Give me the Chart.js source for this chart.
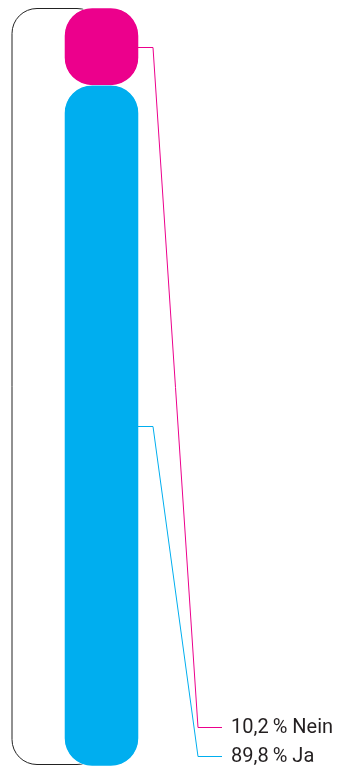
<!DOCTYPE html>
<html>
<head>
<meta charset="utf-8">
<script src="https://cdn.jsdelivr.net/npm/chart.js@4"></script>
<style>
  html, body { margin: 0; padding: 0; background: #fff; }
  #wrap { position: relative; width: 342px; height: 773px; }
</style>
</head>
<body>
<div id="wrap"><canvas id="myChart"></canvas></div>
<script>
const categories = ['Antwort'];
const answers = ['Ja', 'Nein'];
const shares = [89.8, 10.2];
const colors = ['#00AEEF', '#EC008C'];
const labelY = [756, 727]; // label rows, bottom to top

// floating segments built from the shares, bottom to top
let acc = 0;
const segments = shares.map(v => { const s = [acc, acc + v]; acc += v; return s; });

// rounded outline behind the bar
const outlinePlugin = {
  id: 'outline',
  beforeDatasetsDraw(chart) {
    const { ctx, scales: { y } } = chart;
    const bar = chart.getDatasetMeta(0).data[0];
    const left = bar.x - bar.width / 2 - 53;
    const right = bar.x;
    const top = y.getPixelForValue(100);
    const bottom = y.getPixelForValue(0);
    ctx.save();
    ctx.strokeStyle = '#222';
    ctx.lineWidth = 1;
    ctx.beginPath();
    ctx.roundRect(left + 0.5, top + 0.5, right - left, bottom - top - 2, 25);
    ctx.stroke();
    ctx.restore();
  }
};

// leader lines and labels
const leaderPlugin = {
  id: 'leaders',
  afterDatasetsDraw(chart) {
    const { ctx } = chart;
    ctx.save();
    ctx.lineWidth = 1;
    chart.data.datasets.forEach((ds, i) => {
      const el = chart.getDatasetMeta(i).data[0];
      const x0 = el.x + el.width / 2;
      const ym = Math.round((el.y + el.base) / 2) + 0.5;
      const ly = labelY[i] + 0.5;
      ctx.strokeStyle = colors[i];
      ctx.beginPath();
      ctx.moveTo(x0 - 1, ym);
      ctx.lineTo(153, ym);
      ctx.lineTo(198, ly);
      ctx.lineTo(222, ly);
      ctx.stroke();
      ctx.fillStyle = '#231f20';
      ctx.font = '20px Roboto, sans-serif';
      ctx.textBaseline = 'middle';
      ctx.textAlign = 'left';
      const txt = shares[i].toFixed(1).replace('.', ',') + '\u2009% ' + answers[i];
      ctx.fillText(txt, 231, labelY[i] + 1);
    });
    ctx.restore();
  }
};

const ctx = document.getElementById('myChart').getContext('2d');
const myChart = new Chart(ctx, {
  type: 'bar',
  data: {
    labels: categories,
    datasets: answers.map((a, i) => ({
      label: a,
      data: [segments[i]],
      backgroundColor: colors[i],
      borderColor: '#fff',
      borderWidth: 0.5,
      borderSkipped: false,
      borderRadius: 28,
      barThickness: 74,
      grouped: false
    }))
  },
  options: {
    responsive: true,
    maintainAspectRatio: false,
    animation: false,
    layout: { padding: { left: 12, right: 151, top: 8, bottom: 7 } },
    plugins: { legend: { display: false }, tooltip: { enabled: false } },
    scales: {
      x: { display: false },
      y: { display: false, min: 0, max: 100 }
    }
  },
  plugins: [outlinePlugin, leaderPlugin]
});
</script>
</body>
</html>
